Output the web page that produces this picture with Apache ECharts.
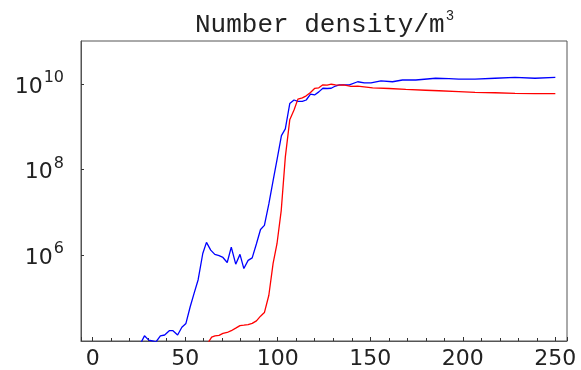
<!DOCTYPE html>
<html>
<head>
<meta charset="utf-8">
<script src="https://cdn.jsdelivr.net/npm/echarts@6/dist/echarts.min.js"></script>
<style>
  html, body { margin: 0; padding: 0; background: #fff; }
  #chart { width: 581px; height: 370px; }
</style>
</head>
<body>
<div id="chart"></div>
<script>
// x in plot units, y in m^-3
const blueX = [26.2, 28.0, 30.3, 32.3, 34.2, 36.6, 38.9, 41.4, 43.4, 45.9, 48.2, 50.4, 52.7, 54.8, 57.0,
  59.5, 61.5, 63.8, 66.0, 68.3, 70.4, 72.7, 74.9, 77.3, 79.6, 81.7, 84.0, 86.2, 88.5, 90.7, 92.8,
  95.2, 97.5, 99.7, 102.0, 104.1, 106.5, 108.8, 110.9, 113.3, 115.4, 117.7, 119.9, 122.2, 124.4,
  126.7, 128.9, 131.2, 133.3, 135.6, 138.7, 143.2, 146.8, 150.4, 155.8, 162.0, 167.4, 174.6,
  185.3, 192.5, 197.8, 206.6, 217.4, 228.2, 239.0, 250.0]
const blueY = [9.3e3, 1.32e4, 1.05e4, 1.0e4, 9.5e3, 1.32e4, 1.38e4, 1.74e4, 1.74e4, 1.38e4, 2.09e4, 2.57e4, 6.3e4, 1.29e5, 2.69e5,
  1.10e6, 2.0e6, 1.32e6, 1.05e6, 9.8e5, 8.9e5, 6.8e5, 1.55e6, 6.2e5, 1.05e6, 4.9e5, 7.6e5, 8.7e5, 1.86e6, 4.0e6, 5.0e6,
  1.58e7, 5.5e7, 1.78e8, 6.2e8, 8.9e8, 3.47e9, 4.2e9, 3.9e9, 3.9e9, 4.2e9, 5.75e9, 5.5e9, 6.5e9, 7.9e9,
  7.8e9, 7.9e9, 8.9e9, 9.5e9, 9.5e9, 9.5e9, 1.12e10, 1.05e10, 1.05e10, 1.17e10, 1.12e10, 1.23e10, 1.23e10,
  1.35e10, 1.32e10, 1.29e10, 1.29e10, 1.35e10, 1.41e10, 1.35e10, 1.41e10]

const redX = [62.2, 64.3, 66.1, 68.3, 70.4, 72.7, 74.9, 77.3, 79.6, 81.7, 84.0, 86.2, 88.5, 90.7, 92.8,
  95.2, 97.5, 99.6, 101.9, 104.1, 106.5, 108.8, 110.9, 113.3, 115.4, 117.7, 119.9, 122.2, 124.4,
  126.7, 128.9, 131.2, 133.3, 135.6, 139.6, 143.2, 151.3, 160.2, 169.2, 179.9, 187.1, 197.8,
  206.6, 217.4, 228.2, 239.0, 250.0]
const redY = [8.9e3, 1.23e4, 1.32e4, 1.35e4, 1.51e4, 1.58e4, 1.74e4, 2.0e4, 2.29e4, 2.34e4, 2.4e4, 2.57e4, 2.95e4, 3.8e4, 4.6e4,
  1.17e5, 6.5e5, 1.86e6, 1.12e7, 1.95e8, 1.45e9, 2.45e9, 4.4e9, 4.7e9, 5.25e9, 6.3e9, 7.8e9, 8.1e9, 9.5e9,
  9.3e9, 9.8e9, 9.5e9, 9.3e9, 9.5e9, 8.7e9, 8.9e9, 8.1e9, 7.8e9, 7.4e9, 7.1e9, 6.9e9, 6.6e9,
  6.3e9, 6.2e9, 6.0e9, 5.9e9, 5.9e9]

const xMin = -6.3, xMax = 256.3
const yMin = 1e4, yMax = 1e11

var chart = echarts.init(document.getElementById('chart'))

const pairs = (xs, ys) => xs.map((x, i) => [x, ys[i]])

const option = {
  animation: false,
  title: {
    text: '{t|Number density/m}{s|3}',
    left: 190,
    top: 4,
    textStyle: {
      fontWeight: 'normal',
      rich: {
        t: { fontFamily: 'Liberation Mono', fontSize: 26, fontWeight: 'normal', color: '#222', lineHeight: 32 },
        s: { fontFamily: 'Liberation Mono', fontSize: 14, fontWeight: 'normal', color: '#222', verticalAlign: 'top', lineHeight: 32, padding: [0, 0, 12, 1] }
      }
    }
  },
  grid: {
    left: 81, right: 14, top: 41, bottom: 29,
    show: true, borderColor: '#555', borderWidth: 1
  },
  xAxis: {
    type: 'value',
    min: xMin,
    max: xMax,
    splitNumber: 5,
    axisLine: { show: true, onZero: false, lineStyle: { color: '#555', width: 1 } },
    axisTick: { show: true, inside: true, length: 4, lineStyle: { color: '#333' } },
    minorTick: { show: true, splitNumber: 5, length: 3, lineStyle: { color: '#333' } },
    splitLine: { show: false },
    axisLabel: {
      showMinLabel: false, showMaxLabel: false,
      margin: 7,
      fontFamily: 'DejaVu Sans', fontSize: 22, color: '#222'
    }
  },
  yAxis: {
    type: 'log',
    logBase: 100,
    min: yMin,
    max: yMax,
    axisLine: { show: true, onZero: false, lineStyle: { color: '#555', width: 1 } },
    axisTick: { show: true, inside: true, length: 3, lineStyle: { color: '#333' } },
    splitLine: { show: false },
    axisLabel: {
      showMinLabel: false, showMaxLabel: false,
      margin: 17,
      formatter: function (v) {
        const e = Math.round(Math.log10(v))
        return '{b|10}{s|' + e + '}'
      },
      rich: {
        b: { fontFamily: 'DejaVu Sans', fontSize: 22, color: '#222', lineHeight: 28, padding: [6, 0, 0, 0] },
        s: { fontFamily: 'DejaVu Sans', fontSize: 16, color: '#222', verticalAlign: 'top', lineHeight: 28, padding: [0, 0, 8, 1] }
      }
    }
  },
  series: [
    {
      type: 'line',
      data: pairs(blueX, blueY),
      showSymbol: false,
      lineStyle: { color: '#0000ff', width: 1.3 },
      clip: true
    },
    {
      type: 'line',
      data: pairs(redX, redY),
      showSymbol: false,
      lineStyle: { color: '#ff0000', width: 1.3 },
      clip: true
    }
  ]
}

chart.setOption(option)
</script>
</body>
</html>
